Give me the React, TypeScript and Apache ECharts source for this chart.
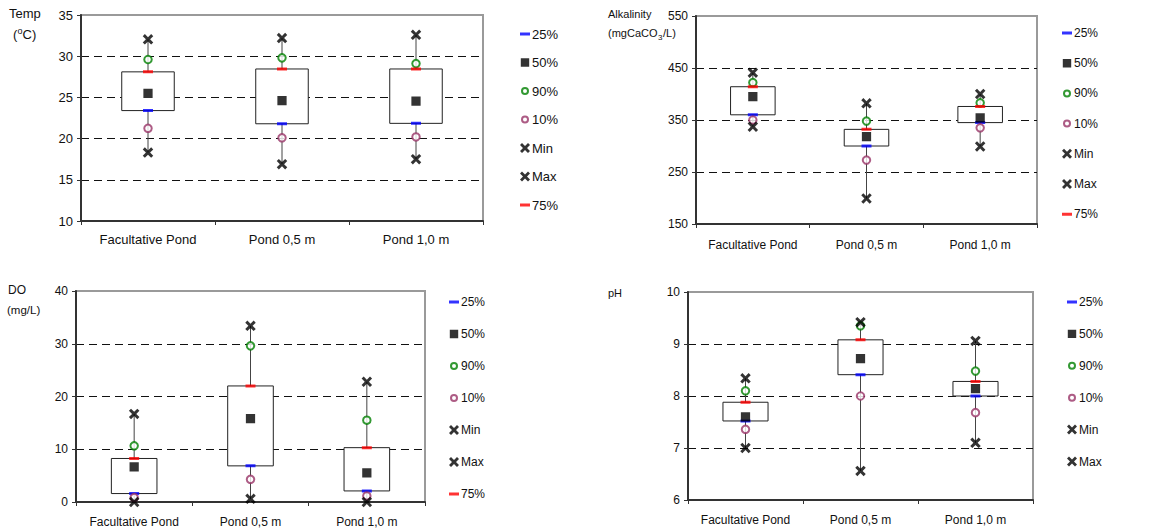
import React, { useEffect, useRef } from "react";
import * as echarts from "echarts";

const categories = ["Facultative Pond", "Pond 0,5 m", "Pond 1,0 m"];

// Temperature (°C)
const tempMin = [18.3, 16.9, 17.5];
const tempP10 = [21.25, 20.1, 20.2];
const tempP25 = [23.4, 21.8, 21.85];
const tempP50 = [25.5, 24.6, 24.55];
const tempP75 = [28.1, 28.45, 28.45];
const tempP90 = [29.6, 29.8, 29.1];
const tempMax = [32.05, 32.2, 32.6];

// Alkalinity (mgCaCO3/L)
const alkMin = [337, 199, 299];
const alkP10 = [350, 273, 335];
const alkP25 = [360, 300, 345];
const alkP50 = [395, 318, 354];
const alkP75 = [414, 332, 376];
const alkP90 = [422, 348, 383];
const alkMax = [441, 382, 400];

// DO (mg/L)
const doMin = [0, 0.6, 0];
const doP10 = [0.85, 4.3, 1.15];
const doP25 = [1.6, 6.85, 2.1];
const doP50 = [6.65, 15.8, 5.5];
const doP75 = [8.25, 22.0, 10.3];
const doP90 = [10.65, 29.6, 15.5];
const doMax = [16.7, 33.4, 22.8];

// pH
const phMin = [7.0, 6.56, 7.1];
const phP10 = [7.36, 8.0, 7.68];
const phP25 = [7.52, 8.41, 8.0];
const phP50 = [7.6, 8.72, 8.14];
const phP75 = [7.88, 9.08, 8.28];
const phP90 = [8.1, 9.35, 8.48];
const phMax = [8.34, 9.42, 9.06];

// y-axis ranges [min, max, interval]
const tempAxis = [10, 35, 5];
const alkAxis = [150, 550, 100];
const doAxis = [0, 40, 10];
const phAxis = [6, 10, 1];

const FONT = "'Liberation Sans', Arial, sans-serif";

const DASH = "path://M0,0h0.01v0.01z M0,3.5L10,3.5L10,6.5L0,6.5Z M9.99,9.99h0.01v0.01z";
const SQUARE = "path://M0,0h0.01v0.01z M0.8,0.8L9.2,0.8L9.2,9.2L0.8,9.2Z M9.99,9.99h0.01v0.01z";
const CROSS = "path://M0,2L2,0L5,3L8,0L10,2L7,5L10,8L8,10L5,7L2,10L0,8L3,5Z";
const RING =
  "path://M0,0h0.01v0.01z M1,5A4,4 0 1,0 9,5A4,4 0 1,0 1,5Z M3,5A2,2 0 1,1 7,5A2,2 0 1,1 3,5Z M9.99,9.99h0.01v0.01z";

const ringItem = (name: string) => ({ name, icon: RING, itemStyle: { borderWidth: 0 } });
const legendFull = ["25%", "50%", ringItem("90%"), ringItem("10%"), "Min", "Max", "75%"];
const legendPh = ["25%", "50%", ringItem("90%"), ringItem("10%"), "Min", "Max"];

type Panel = {
  grid: any;
  axis: number[];
  font: number;
  labelMargin: number;
  stats: { min: number[]; p10: number[]; p25: number[]; p50: number[]; p75: number[]; p90: number[]; max: number[] };
  legend: any;
};

const panels: Panel[] = [
  {
    grid: { left: 81, top: 15, width: 402, height: 206 },
    axis: tempAxis,
    font: 13,
    labelMargin: 12,
    stats: { min: tempMin, p10: tempP10, p25: tempP25, p50: tempP50, p75: tempP75, p90: tempP90, max: tempMax },
    legend: { left: 520, top: 27, itemGap: 14.5, data: legendFull, fontSize: 13 },
  },
  {
    grid: { left: 696, top: 16, width: 341, height: 208 },
    axis: alkAxis,
    font: 12,
    labelMargin: 15,
    stats: { min: alkMin, p10: alkP10, p25: alkP25, p50: alkP50, p75: alkP75, p90: alkP90, max: alkMax },
    legend: { left: 1062, top: 26, itemGap: 16.2, data: legendFull, fontSize: 12 },
  },
  {
    grid: { left: 76, top: 291, width: 349, height: 211 },
    axis: doAxis,
    font: 12,
    labelMargin: 14,
    stats: { min: doMin, p10: doP10, p25: doP25, p50: doP50, p75: doP75, p90: doP90, max: doMax },
    legend: { left: 449, top: 295, itemGap: 18, data: legendFull, fontSize: 12 },
  },
  {
    grid: { left: 688, top: 292, width: 345, height: 208 },
    axis: phAxis,
    font: 12,
    labelMargin: 14,
    stats: { min: phMin, p10: phP10, p25: phP25, p50: phP50, p75: phP75, p90: phP90, max: phMax },
    legend: { left: 1067, top: 295, itemGap: 17.9, data: legendPh, fontSize: 12 },
  },
];

function buildOption() {
  const grid = panels.map((p) => ({
    ...p.grid,
    show: true,
    borderColor: "#9a9a9a",
    borderWidth: 2,
    backgroundColor: "transparent",
  }));

  const xAxis = panels.map((p, i) => ({
    type: "category",
    gridIndex: i,
    data: categories,
    boundaryGap: true,
    axisLine: { show: true, onZero: false, lineStyle: { color: "#333", width: 2 } },
    axisTick: { show: true, length: 4, lineStyle: { color: "#333", width: 1 } },
    axisLabel: { color: "#111", fontSize: p.font, fontFamily: FONT, margin: p.labelMargin, interval: 0 },
    splitLine: { show: false },
  }));

  const yAxis = panels.map((p, i) => ({
    type: "value",
    gridIndex: i,
    min: p.axis[0],
    max: p.axis[1],
    interval: p.axis[2],
    axisLine: { show: true, lineStyle: { color: "#333", width: 2 } },
    axisTick: { show: true, length: 4, lineStyle: { color: "#333", width: 1 } },
    axisLabel: { color: "#111", fontSize: p.font, fontFamily: FONT, margin: 8 },
    splitLine: {
      show: true,
      showMinLine: false,
      showMaxLine: false,
      lineStyle: { color: "#111", width: 1, type: [8, 5] },
    },
  }));

  const series: any[] = [];
  panels.forEach((p, i) => {
    const s = p.stats;
    series.push({
      type: "custom",
      name: "box",
      xAxisIndex: i,
      yAxisIndex: i,
      silent: true,
      data: categories.map((_, k) => [k, s.min[k], s.p25[k], s.p75[k], s.max[k]]),
      encode: { x: 0, y: [1, 2, 3, 4] },
      renderItem: (params: any, api: any) => {
        const x = api.value(0);
        const lo = api.coord([x, api.value(1)]);
        const q1 = api.coord([x, api.value(2)]);
        const q3 = api.coord([x, api.value(3)]);
        const hi = api.coord([x, api.value(4)]);
        const w = api.size([1, 0])[0] * 0.392;
        return {
          type: "group",
          children: [
            {
              type: "line",
              shape: { x1: lo[0], y1: lo[1], x2: hi[0], y2: hi[1] },
              style: { stroke: "#444", lineWidth: 1 },
            },
            {
              type: "rect",
              shape: { x: q1[0] - w / 2, y: q3[1], width: w, height: q1[1] - q3[1] },
              style: { fill: "#fff", stroke: "#222", lineWidth: 1 },
            },
          ],
        };
      },
    });
    const mk = (name: string, data: number[], symbol: string, size: number, color: string, extra: any = {}) => ({
      type: "scatter",
      name,
      xAxisIndex: i,
      yAxisIndex: i,
      data,
      symbol,
      symbolSize: size,
      itemStyle: { color, ...extra },
      silent: true,
    });
    series.push(mk("25%", s.p25, DASH, 10, "#0000ff"));
    series.push(mk("50%", s.p50, SQUARE, 11, "#000000"));
    series.push(mk("90%", s.p90, "emptyCircle", 7.5, "#008000", { borderColor: "#008000", borderWidth: 2.2 }));
    series.push(mk("10%", s.p10, "emptyCircle", 7.5, "#993366", { borderColor: "#993366", borderWidth: 2.2 }));
    series.push(mk("Min", s.min, CROSS, 10.5, "#000000"));
    series.push(mk("Max", s.max, CROSS, 10.5, "#000000"));
    series.push(mk("75%", s.p75, DASH, 10, "#ff0000"));
  });

  const legend = panels.map((p) => ({
    orient: "vertical",
    left: p.legend.left,
    top: p.legend.top,
    padding: 0,
    itemGap: p.legend.itemGap,
    itemWidth: 10,
    itemHeight: 10,
    selectedMode: false,
    data: p.legend.data,
    textStyle: { color: "#111", fontSize: p.legend.fontSize, fontFamily: FONT, lineHeight: 14, padding: [0, 0, 0, -3] },
  }));

  const txt = (left: number, top: number, text: string, size: number) => ({
    type: "text",
    left,
    top,
    style: { text, fill: "#111", font: `${size}px ${FONT}` },
  });

  const graphic = [
    txt(9, 7, "Temp", 13),
    txt(13, 28, "(", 13),
    txt(17.5, 26, "o", 9),
    txt(22.5, 28, "C)", 13),
    txt(608, 8, "Alkalinity", 11),
    txt(608, 27, "(mgCaCO", 11),
    txt(658, 33, "3", 8),
    txt(663, 27, "/L)", 11),
    txt(8, 284, "DO", 12),
    txt(7, 304, "(mg/L)", 11.5),
    txt(608, 287, "pH", 11),
  ];

  return { animation: false, grid, xAxis, yAxis, series, legend, graphic };
}

export default function App() {
  const ref = useRef<HTMLDivElement>(null);
  useEffect(() => {
    if (!ref.current) return;
    const chart = echarts.init(ref.current, undefined, { renderer: "svg" });
    chart.setOption(buildOption() as any);
    return () => chart.dispose();
  }, []);
  return <div ref={ref} style={{ width: 1169, height: 530, position: "absolute", left: 0, top: 0 }} />;
}
